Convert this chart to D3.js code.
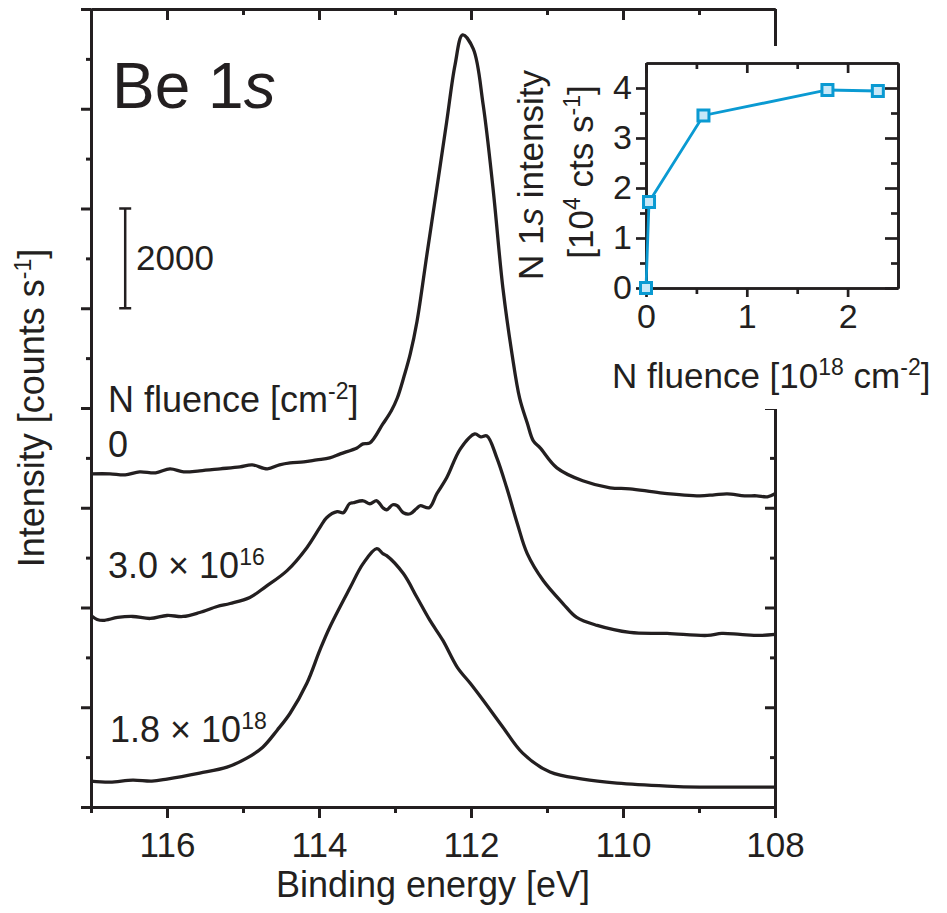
<!DOCTYPE html>
<html>
<head>
<meta charset="utf-8">
<script src="https://cdn.jsdelivr.net/npm/d3@7"></script>
<style>
  body { margin: 0; background: #fff; }
  text { font-family: "Liberation Sans", Arial, Helvetica, sans-serif; fill: #231f20; }
</style>
</head>
<body>
<div id="canvas"></div>
<script>
const width = 947;
const height = 913;
const ink = "#231f20";
const blue = "#0a9ad2";
const paleBlue = "#c8e8f8";

// Be 1s spectra: binding energy [eV] and intensity [counts/s], offsets as plotted
const energy0 = [117.0, 116.75, 116.55, 116.36, 116.15, 115.96, 115.78, 115.57, 115.3, 115.04, 114.88, 114.68, 114.52, 114.38, 114.2, 114.03, 113.86, 113.72, 113.5, 113.42, 113.33, 113.16, 113.05, 112.97, 112.88, 112.8, 112.71, 112.58, 112.45, 112.32, 112.21, 112.11, 111.97, 111.84, 111.71, 111.58, 111.46, 111.36, 111.26, 111.18, 111.09, 110.87, 110.53, 110.17, 109.91, 109.51, 108.99, 108.8, 108.63, 108.4, 108.24, 108.1, 108.0];
const counts0 = [6680, 6680, 6660, 6720, 6700, 6780, 6720, 6740, 6780, 6820, 6860, 6780, 6860, 6900, 6920, 6960, 7000, 7080, 7200, 7280, 7300, 7680, 7940, 8200, 8640, 9080, 9740, 11080, 12400, 13740, 14880, 15480, 15200, 14080, 12400, 10400, 9080, 8200, 7700, 7340, 7200, 6800, 6540, 6400, 6380, 6300, 6240, 6260, 6280, 6240, 6240, 6220, 6280];

const energy1 = [117.0, 116.92, 116.84, 116.65, 116.45, 116.22, 116.0, 115.79, 115.57, 115.34, 115.17, 114.91, 114.7, 114.42, 114.16, 113.99, 113.9, 113.76, 113.68, 113.6, 113.55, 113.42, 113.33, 113.24, 113.16, 113.11, 113.03, 112.97, 112.89, 112.8, 112.72, 112.67, 112.55, 112.45, 112.32, 112.14, 111.95, 111.87, 111.79, 111.66, 111.53, 111.39, 111.26, 111.05, 110.79, 110.61, 110.34, 109.91, 109.42, 108.89, 108.7, 108.46, 108.2, 108.0];
const counts1 = [3840, 3760, 3740, 3800, 3820, 3780, 3840, 3820, 3900, 4020, 4080, 4200, 4420, 4740, 5200, 5600, 5800, 5920, 5900, 6080, 6100, 6140, 6080, 6140, 6000, 5960, 6060, 6040, 5900, 5880, 5980, 6040, 6000, 6280, 6600, 7180, 7480, 7420, 7440, 7000, 6400, 5680, 5080, 4540, 4080, 3800, 3640, 3500, 3480, 3440, 3480, 3460, 3440, 3460];

const energy2 = [117.0, 116.75, 116.45, 116.2, 116.0, 115.57, 115.21, 114.95, 114.74, 114.55, 114.38, 114.16, 113.99, 113.86, 113.59, 113.42, 113.24, 113.16, 113.11, 112.89, 112.71, 112.54, 112.37, 112.18, 112.01, 111.84, 111.58, 111.32, 110.96, 110.53, 110.08, 109.42, 108.99, 108.46, 108.0];
const counts2 = [520, 500, 540, 520, 560, 680, 800, 980, 1200, 1540, 1880, 2480, 3140, 3600, 4400, 4880, 5180, 5080, 5040, 4680, 4200, 3740, 3340, 2800, 2480, 2140, 1600, 1080, 700, 560, 480, 420, 400, 400, 400];

// inset: N 1s intensity vs N fluence
const fluence = [0, 0.03, 0.57, 1.8, 2.3];
const n1sIntensity = [0, 1.72, 3.45, 3.96, 3.94];

const energyMajor = [116, 114, 112, 110, 108];
const energyMinor = [117, 115, 113, 111, 109];
const countsMajor = d3.range(0, 16001, 2000);
const countsMinor = d3.range(1000, 16000, 2000);
const insetXMajor = [0, 1, 2];
const insetXMinor = [0.5, 1.5];
const insetYMajor = [0, 1, 2, 3, 4];
const insetYMinor = [0.5, 1.5, 2.5, 3.5];

const svg = d3.select("#canvas").append("svg")
  .attr("width", width)
  .attr("height", height);

// main plot scales
const x = d3.scaleLinear().domain([117, 108]).range([91, 775]);
const y = d3.scaleLinear().domain([0, 16000]).range([807, 9]);

function styleAxis(g, sw) {
  g.attr("font-family", null).attr("font-size", null);
  g.select(".domain").attr("stroke", ink).attr("stroke-width", sw);
  g.selectAll(".tick line").attr("stroke", ink).attr("stroke-width", sw);
  g.selectAll(".tick text").attr("fill", ink);
}

function addAxis(axis, tx, ty, sw, fontSize) {
  const g = svg.append("g")
    .attr("transform", `translate(${tx},${ty})`)
    .call(axis);
  styleAxis(g, sw);
  g.selectAll(".tick text").style("font-size", fontSize + "px");
  return g;
}

// bottom
addAxis(d3.axisBottom(x).tickValues(energyMinor).tickSize(6).tickSizeOuter(0).tickFormat(""), 0, 807, 3, 35);
addAxis(d3.axisBottom(x).tickValues(energyMajor).tickSize(11).tickSizeOuter(0).tickPadding(14).tickFormat(d3.format("d")), 0, 807, 3, 35);
// top (ticks inward)
addAxis(d3.axisTop(x).tickValues(energyMinor).tickSize(-6).tickSizeOuter(0).tickFormat(""), 0, 9, 3, 35);
addAxis(d3.axisTop(x).tickValues(energyMajor).tickSize(-11).tickSizeOuter(0).tickFormat(""), 0, 9, 3, 35);
// left (outward)
addAxis(d3.axisLeft(y).tickValues(countsMinor).tickSize(5).tickSizeOuter(0).tickFormat(""), 91, 0, 3, 35);
addAxis(d3.axisLeft(y).tickValues(countsMajor).tickSize(10).tickSizeOuter(0).tickFormat(""), 91, 0, 3, 35);
// right (inward)
addAxis(d3.axisRight(y).tickValues(countsMinor).tickSize(-5).tickSizeOuter(0).tickFormat(""), 775, 0, 3, 35);
addAxis(d3.axisRight(y).tickValues(countsMajor).tickSize(-10).tickSizeOuter(0).tickFormat(""), 775, 0, 3, 35);

// spectra
const line = d3.line()
  .x(d => x(d[0]))
  .y(d => y(d[1]))
  .curve(d3.curveCatmullRom.alpha(0.5));
[[energy0, counts0], [energy1, counts1], [energy2, counts2]].forEach(([e, c]) => {
  svg.append("path")
    .datum(d3.zip(e, c))
    .attr("fill", "none")
    .attr("stroke", ink)
    .attr("stroke-width", 3.3)
    .attr("stroke-linejoin", "round")
    .attr("d", line);
});

// scale bar: 2000 counts
const barX = x(116.55);
svg.append("line").attr("x1", barX).attr("x2", barX).attr("y1", y(12000)).attr("y2", y(10000))
  .attr("stroke", ink).attr("stroke-width", 2.5);
[12000, 10000].forEach(v => {
  svg.append("line").attr("x1", barX - 6).attr("x2", barX + 6).attr("y1", y(v)).attr("y2", y(v))
    .attr("stroke", ink).attr("stroke-width", 2.5);
});

// text helper: parts = [[string, "n"|"sup"|"i"], ...]
function richText(parent, tx, ty, parts, size, opts = {}) {
  const t = parent.append("text")
    .attr("x", tx).attr("y", ty)
    .style("font-size", size + "px")
    .attr("text-anchor", opts.anchor || "start");
  if (opts.rotate) t.attr("transform", `rotate(-90,${tx},${ty})`);
  let shifted = false;
  parts.forEach(([s, kind]) => {
    const sp = t.append("tspan").text(s);
    if (kind === "sup") {
      sp.style("font-size", Math.round(size * 0.65) + "px").attr("dy", -size * 0.36);
      shifted = true;
    } else {
      if (shifted) { sp.attr("dy", size * 0.36); shifted = false; }
      if (kind === "i") sp.style("font-style", "italic");
    }
  });
  return t;
}

richText(svg, 112, 108, [["Be 1", "n"], ["s", "i"]], 64);
richText(svg, 136, 270, [["2000", "n"]], 35);
richText(svg, 108, 412, [["N fluence [cm", "n"], ["-2", "sup"], ["]", "n"]], 36);
richText(svg, 108, 457, [["0", "n"]], 36);
richText(svg, 108, 578, [["3.0 \u00d7 10", "n"], ["16", "sup"]], 36);
richText(svg, 110, 742, [["1.8 \u00d7 10", "n"], ["18", "sup"]], 36);
richText(svg, 433, 897, [["Binding energy [eV]", "n"]], 36, { anchor: "middle" });
richText(svg, 44, 408, [["Intensity [counts s", "n"], ["-1", "sup"], ["]", "n"]], 36, { anchor: "middle", rotate: true });

// inset
svg.append("rect").attr("x", 530).attr("y", 46).attr("width", width - 530).attr("height", 363).attr("fill", "#fff");

const xi = d3.scaleLinear().domain([0, 2.5]).range([646, 898]);
const yi = d3.scaleLinear().domain([0, 4.5]).range([288, 63]);

addAxis(d3.axisBottom(xi).tickValues(insetXMinor).tickSize(6).tickSizeOuter(0).tickFormat(""), 0, 288, 2.7, 34);
addAxis(d3.axisBottom(xi).tickValues(insetXMajor).tickSize(9).tickSizeOuter(0).tickPadding(7).tickFormat(d3.format("d")), 0, 288, 2.7, 34);
addAxis(d3.axisTop(xi).tickValues(insetXMinor).tickSize(-6).tickSizeOuter(0).tickFormat(""), 0, 63, 2.7, 34);
addAxis(d3.axisTop(xi).tickValues(insetXMajor).tickSize(-10).tickSizeOuter(0).tickFormat(""), 0, 63, 2.7, 34);
addAxis(d3.axisLeft(yi).tickValues(insetYMinor).tickSize(6).tickSizeOuter(0).tickFormat(""), 646, 0, 2.7, 34);
addAxis(d3.axisLeft(yi).tickValues(insetYMajor).tickSize(10).tickSizeOuter(0).tickPadding(4).tickFormat(d3.format("d")), 646, 0, 2.7, 34);
addAxis(d3.axisRight(yi).tickValues(insetYMinor).tickSize(-7).tickSizeOuter(0).tickFormat(""), 898, 0, 2.7, 34);
addAxis(d3.axisRight(yi).tickValues(insetYMajor).tickSize(-13).tickSizeOuter(0).tickFormat(""), 898, 0, 2.7, 34);

const pts = d3.zip(fluence, n1sIntensity);
svg.append("path")
  .datum(pts)
  .attr("fill", "none")
  .attr("stroke", blue)
  .attr("stroke-width", 2.8)
  .attr("d", d3.line().x(d => xi(d[0])).y(d => yi(d[1])));
svg.selectAll(".marker").data(pts).enter().append("rect")
  .attr("class", "marker")
  .attr("x", d => xi(d[0]) - 5.5)
  .attr("y", d => yi(d[1]) - 5.5)
  .attr("width", 11)
  .attr("height", 11)
  .attr("fill", paleBlue)
  .attr("stroke", blue)
  .attr("stroke-width", 3);

richText(svg, 612, 388, [["N fluence [10", "n"], ["18", "sup"], [" cm", "n"], ["-2", "sup"], ["]", "n"]], 35);
richText(svg, 543, 175, [["N 1", "n"], ["s", "i"], [" intensity", "n"]], 35, { anchor: "middle", rotate: true });
richText(svg, 593, 172, [["[10", "n"], ["4", "sup"], [" cts s", "n"], ["-1", "sup"], ["]", "n"]], 35, { anchor: "middle", rotate: true });
</script>
</body>
</html>
